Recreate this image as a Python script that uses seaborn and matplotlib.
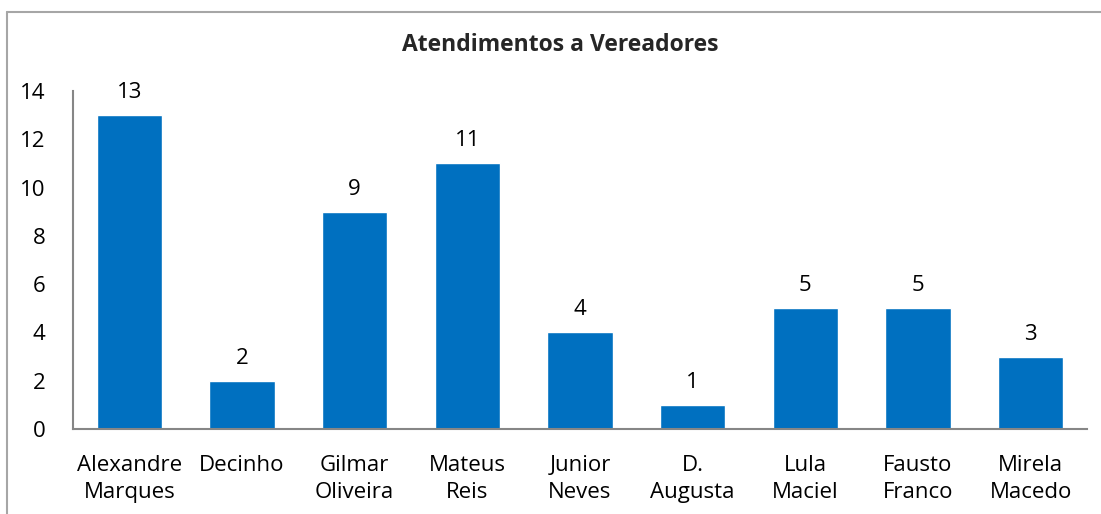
import pandas as pd
import seaborn as sns
import matplotlib.pyplot as plt
from matplotlib.lines import Line2D

vereadores = ['Alexandre\nMarques', 'Decinho', 'Gilmar\nOliveira', 'Mateus\nReis',
              'Junior\nNeves', 'D.\nAugusta', 'Lula\nMaciel', 'Fausto\nFranco', 'Mirela\nMacedo']
atendimentos = [13, 2, 9, 11, 4, 1, 5, 5, 3]

df = pd.DataFrame({'vereador': vereadores, 'atendimentos': atendimentos})

sns.set_style('white')
plt.rcParams['font.family'] = ['Open Sans', 'DejaVu Sans']

fig = plt.figure(figsize=(11.01, 5.14), dpi=100)
ax = fig.add_axes([73/1101, 1 - 429/514, (1087-73)/1101, (429-91)/514])

sns.barplot(data=df, x='vereador', y='atendimentos', color='#0070C0',
            saturation=1, width=0.58, ax=ax)

for i, v in enumerate(atendimentos):
    ax.text(i, v + 0.5, str(v), ha='center', va='bottom', fontsize=16, color='black')

ax.set_ylim(0, 14)
ax.set_xlim(-0.5, len(vereadores) - 0.5)
ax.set_yticks(range(0, 15, 2))
ax.tick_params(axis='both', length=0, labelsize=16, colors='black')
ax.tick_params(axis='x', pad=19)
ax.tick_params(axis='y', pad=20)
for t in ax.get_xticklabels():
    t.set_linespacing(1.32)
ax.set_xlabel('')
ax.set_ylabel('')
sns.despine(ax=ax, top=True, right=True)
for s in ['left', 'bottom']:
    ax.spines[s].set_color('#868686')
    ax.spines[s].set_linewidth(1.5)

fig.text(560/1101, 1 - 45/514, 'Atendimentos a Vereadores', ha='center', va='center',
         fontsize=16.5, fontweight='bold')

# borda do gráfico
fig.add_artist(Line2D([7/1101, 7/1101], [0, 1 - 12/514], color='#A6A6A6', lw=1.5, transform=fig.transFigure))
fig.add_artist(Line2D([7/1101, 1], [1 - 12/514, 1 - 12/514], color='#A6A6A6', lw=1.5, transform=fig.transFigure))

plt.savefig('out.png', dpi=100)
